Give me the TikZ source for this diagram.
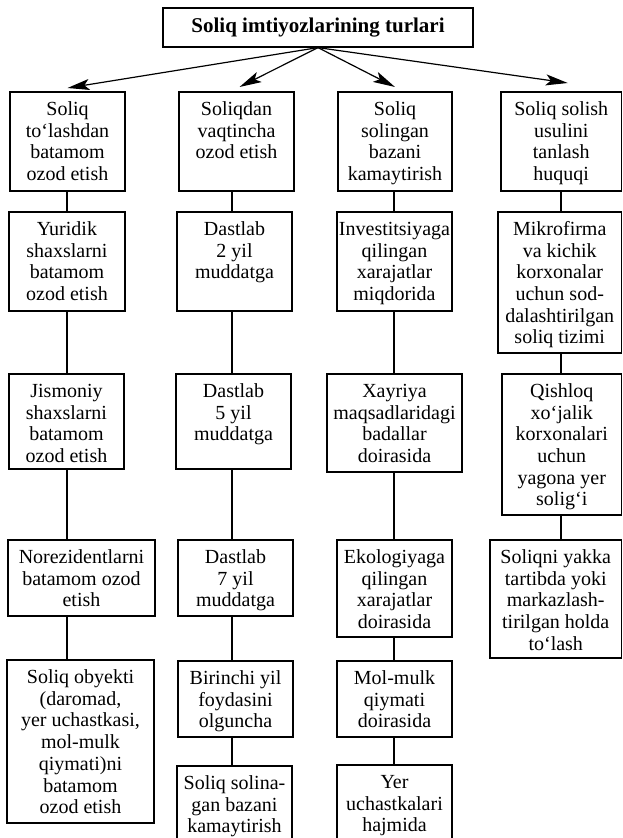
\documentclass[tikz,border=0pt]{standalone}
\usepackage{fontspec}
\setmainfont{Liberation Serif}
\usetikzlibrary{arrows.meta}
\newcommand\cell[6]{%
  \node[cellbox, anchor=north west] (#1) at (#2,#3)
    {\begin{minipage}[c][\dimexpr#5pt-#3pt\relax][t]{\dimexpr#4pt-#2pt\relax}%
      \centering\vspace*{8.3pt}\strut #6\end{minipage}};}
\begin{document}
\begin{tikzpicture}[x=1pt,y=-1pt,
  cellbox/.style={draw, line width=1.2pt, inner sep=0pt, outer sep=0pt,
    font=\fontsize{20}{21.7}\selectfont},
  titlebox/.style={draw, line width=1.2pt, inner sep=0pt,
    minimum width=310pt, minimum height=39pt,
    font=\bfseries\fontsize{21}{24}\selectfont},
  arr/.style={line width=1.2pt, -{Stealth[length=22pt,width=11pt,inset=5pt]}},
  link/.style={line width=1.2pt}]
\useasboundingbox (0,0) rectangle (623,838);
\clip (0,0) rectangle (623,838);
\node[titlebox] (title) at (318,27.5) {Soliq imtiyozlarining turlari};
% row 1
\cell{b1}{10}{92}{125}{191}{Soliq\\ to‘lashdan\\ batamom\\ ozod etish}
\cell{b2}{179}{92}{294}{191}{Soliqdan\\ vaqtincha\\ ozod etish}
\cell{b3}{338}{92}{452}{191}{Soliq\\ solingan\\ bazani\\ kamaytirish}
\cell{b4}{501}{92}{621.5}{191}{Soliq solish\\ usulini\\ tanlash\\ huquqi}
% column 1
\cell{c1a}{9}{212}{125}{311}{Yuridik\\ shaxslarni\\ batamom\\ ozod etish}
\cell{c1b}{9}{374}{124}{469}{Jismoniy\\ shaxslarni\\ batamom\\ ozod etish}
\cell{c1c}{8}{540}{155}{616}{Norezidentlarni\\ batamom ozod\\ etish}
\cell{c1d}{7}{660}{154}{823}{Soliq obyekti\\ (daromad,\\ yer uchastkasi,\\ mol-mulk\\ qiymati)ni\\ batamom\\ ozod etish}
% column 2
\cell{c2a}{177}{212}{292}{311}{Dastlab\\ 2 yil\\ muddatga}
\cell{c2b}{176}{374}{291}{469}{Dastlab\\ 5 yil\\ muddatga}
\cell{c2c}{178}{540}{293}{616}{Dastlab\\ 7 yil\\ muddatga}
\cell{c2d}{178}{661}{293}{737}{Birinchi yil\\ foydasini\\ olguncha}
\cell{c2e}{177}{766}{292}{850}{Soliq solina-\\ gan bazani\\ kamaytirish}
% column 3
\cell{c3a}{337}{212}{452}{311}{Investitsiyaga\\ qilingan\\ xarajatlar\\ miqdorida}
\cell{c3b}{327}{374}{462}{472}{Xayriya\\ maqsadlaridagi\\ badallar\\ doirasida}
\cell{c3c}{337}{540}{452}{637}{Ekologiyaga\\ qilingan\\ xarajatlar\\ doirasida}
\cell{c3d}{337}{661}{452}{737}{Mol-mulk\\ qiymati\\ doirasida}
\cell{c3e}{337}{765}{452}{850}{Yer\\ uchastkalari\\ hajmida}
% column 4
\cell{c4a}{498}{212}{621.5}{353}{Mikrofirma\\ va kichik\\ korxonalar\\ uchun sod-\\ dalashtirilgan\\ soliq tizimi}
\cell{c4b}{502}{374}{621.5}{515}{Qishloq\\ xo‘jalik\\ korxonalari\\ uchun\\ yagona yer\\ solig‘i}
\cell{c4c}{490}{540}{621.5}{658}{Soliqni yakka\\ tartibda yoki\\ markazlash-\\ tirilgan holda\\ to‘lash}
% column lines
\coordinate (k1) at (67,0);
\coordinate (k2) at (232,0);
\coordinate (k3) at (394,0);
\coordinate (k4) at (561,0);
% arrows
\draw[arr] (title.south) -- ([yshift=4pt]b1.north);
\draw[arr] (title.south) -- ([xshift=3pt,yshift=5pt]b2.north);
\draw[arr] (title.south) -- ([yshift=5pt]b3.north);
\draw[arr] (title.south) -- ([xshift=6.5pt,yshift=9pt]b4.north);
% connectors
\foreach \a/\b/\k in {b1/c1a/k1, c1a/c1b/k1, c1b/c1c/k1, c1c/c1d/k1,
  b2/c2a/k2, c2a/c2b/k2, c2b/c2c/k2, c2c/c2d/k2, c2d/c2e/k2,
  b3/c3a/k3, c3a/c3b/k3, c3b/c3c/k3, c3c/c3d/k3, c3d/c3e/k3,
  b4/c4a/k4, c4a/c4b/k4, c4b/c4c/k4}
  \draw[link] (\a.south -| \k) -- (\b.north -| \k);
\end{tikzpicture}
\end{document}
